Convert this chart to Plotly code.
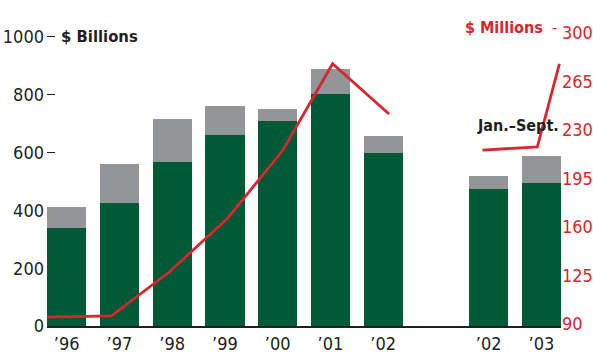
import plotly.graph_objects as go

# ---- data ----
year_labels = ["’96", "’97", "’98", "’99", "’00", "’01", "’02", "’02", "’03"]
year_slots = [0, 1, 2, 3, 4, 5, 6, 8, 9]          # slot 7 left empty (full-year vs Jan.–Sept.)
investment_grade = [340, 427, 569, 662, 709, 804, 600, 474, 496]   # $ billions
high_yield = [73, 134, 147, 99, 42, 85, 57, 45, 92]                # $ billions

deal_slots_full = [-0.38, 0.85, 1.95, 3.05, 4.1, 5.04, 6.11]
deal_size_full = [95.0, 95.8, 127.7, 166.3, 215.5, 277.8, 241.5]   # $ millions
deal_slots_ytd = [7.88, 8.92, 9.34]
deal_size_ytd = [215.5, 217.7, 277.6]

left_ticks = [0, 200, 400, 600, 800, 1000]
right_ticks = [90, 125, 160, 195, 230, 265, 300]

GREEN = "#005a38"
GRAY = "#939598"
RED = "#d7262e"
INK = "#231f20"
FONT = "DejaVu Sans Condensed, Liberation Sans Narrow, Roboto, sans-serif"

fig = go.Figure()
fig.add_trace(go.Bar(x=year_slots, y=investment_grade, marker_color=GREEN,
                     marker_line_width=0, width=0.744, name="Investment Grade",
                     legendrank=2))
fig.add_trace(go.Bar(x=year_slots, y=high_yield, marker_color=GRAY,
                     marker_line_width=0, width=0.744, name="High-Yield",
                     legendrank=1))
fig.add_trace(go.Scatter(x=deal_slots_full, y=deal_size_full, yaxis="y2",
                         mode="lines", line=dict(color=RED, width=2.8),
                         name="Average Deal Size ($ Millions)", legendrank=3))
fig.add_trace(go.Scatter(x=deal_slots_ytd, y=deal_size_ytd, yaxis="y2",
                         mode="lines", line=dict(color=RED, width=2.8),
                         showlegend=False))

fig.update_layout(
    width=593, height=353,
    margin=dict(l=47, r=32, t=30, b=27, autoexpand=False),
    barmode="stack",
    plot_bgcolor="white", paper_bgcolor="white",
    font=dict(family=FONT, size=18, color=INK),
    showlegend=True,
    legend=dict(orientation="h", x=0.3, xanchor="left", y=1.075, yanchor="bottom",
                font=dict(size=11, color=INK, family="Liberation Sans, sans-serif"),
                bgcolor="rgba(0,0,0,0)", itemwidth=30, tracegroupgap=0),
    xaxis=dict(range=[-0.373, 9.37], tickmode="array", tickvals=year_slots,
               ticktext=year_labels, showgrid=False, zeroline=False,
               showline=True, linecolor=INK, linewidth=2, ticks="",
               tickfont=dict(size=18, color=INK), layer="below traces",
               fixedrange=True),
    yaxis=dict(range=[0, 1024], tickmode="array", tickvals=left_ticks,
               showgrid=False, zeroline=False, showline=False,
               ticks="inside", ticklen=8, tickwidth=1.2, tickcolor=INK,
               ticklabelstandoff=2,
               tickfont=dict(size=18, color=INK), layer="below traces",
               fixedrange=True),
    yaxis2=dict(range=[88.56, 302.1], overlaying="y", side="right",
                tickmode="array", tickvals=right_ticks, showgrid=False,
                zeroline=False, showline=False, ticks="",
                tickfont=dict(size=18, color=RED), fixedrange=True),
    annotations=[
        dict(text="<b>$ Billions</b>", xref="paper", yref="y", x=0, y=1000,
             xanchor="left", yanchor="middle", xshift=12, showarrow=False,
             font=dict(size=16.5, color=INK, family=FONT)),
        dict(text="<b>$ Millions</b>  -", xref="paper", yref="y2", x=1, y=300,
             xanchor="right", yanchor="middle", xshift=-2, yshift=5, showarrow=False,
             font=dict(size=16, color=RED, family=FONT)),
        dict(text="<b>Jan.–Sept.</b>", xref="x", yref="y2", x=8.55, y=233,
             xanchor="center", yanchor="middle", showarrow=False,
             font=dict(size=16, color=INK, family=FONT)),
    ],
)

fig.write_html("out.html")
